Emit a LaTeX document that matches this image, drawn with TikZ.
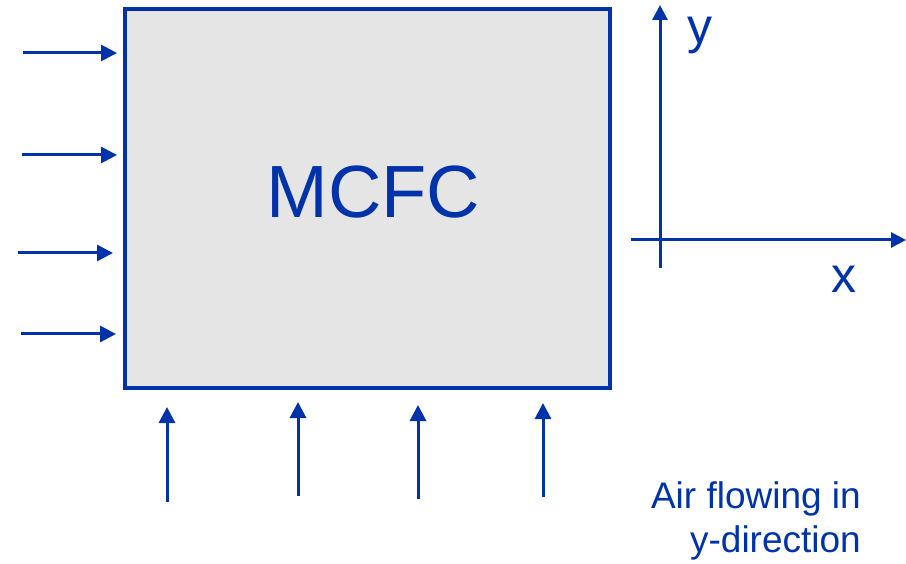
\documentclass[tikz,border=0pt]{standalone}
\usepackage{fontspec}
\setmainfont{Liberation Sans}
\usetikzlibrary{arrows.meta}
\definecolor{flowblue}{RGB}{0,51,170}
\definecolor{cellgray}{RGB}{229,229,229}
\tikzset{
  cellbox/.style={draw=flowblue, fill=cellgray, line width=3.2pt, rectangle, inner sep=0pt,
    minimum width=485pt, minimum height=379pt},
  flowarrow/.style={draw=flowblue, line width=3pt, -{Triangle[length=16pt,width=16pt]}},
  axisarrow/.style={draw=flowblue, line width=3pt, -{Triangle[length=15pt,width=15pt]}},
  bluetext/.style={text=flowblue, inner sep=0pt}
}
\begin{document}
\begin{tikzpicture}[x=1pt,y=-1pt]
\useasboundingbox (0,0) rectangle (906,564);
% main cell
\node[cellbox] (cell) at (367.5,198.5) {};
\node[bluetext, anchor=base, font=\fontsize{74}{78}\selectfont] (mcfc) at (373.5,218) {MCFC};
% left inflow arrows
\coordinate (l1s) at (23,53);  \coordinate (l1e) at (117,53);
\coordinate (l2s) at (22,155); \coordinate (l2e) at (117,155);
\coordinate (l3s) at (18,253); \coordinate (l3e) at (113,253);
\coordinate (l4s) at (21,334); \coordinate (l4e) at (116,334);
\draw[flowarrow] (l1s) -- (l1e);
\draw[flowarrow] (l2s) -- (l2e);
\draw[flowarrow] (l3s) -- (l3e);
\draw[flowarrow] (l4s) -- (l4e);
% bottom inflow arrows
\coordinate (b1s) at (167,502); \coordinate (b1e) at (167,407);
\coordinate (b2s) at (298,496); \coordinate (b2e) at (298,402);
\coordinate (b3s) at (418,499); \coordinate (b3e) at (418,405);
\coordinate (b4s) at (543,497); \coordinate (b4e) at (543,403);
\draw[flowarrow] (b1s) -- (b1e);
\draw[flowarrow] (b2s) -- (b2e);
\draw[flowarrow] (b3s) -- (b3e);
\draw[flowarrow] (b4s) -- (b4e);
% axes
\coordinate (ys) at (660,268); \coordinate (ye) at (660,5);
\coordinate (xs) at (631,240); \coordinate (xe) at (906,240);
\draw[axisarrow] (ys) -- (ye);
\draw[axisarrow] (xs) -- (xe);
\node[bluetext, anchor=base, font=\fontsize{50}{52}\selectfont] (ylab) at (700,44) {y};
\node[bluetext, anchor=base, font=\fontsize{50}{52}\selectfont] (xlab) at (844,293) {x};
% caption
\node[bluetext, anchor=base east, font=\fontsize{37}{40}\selectfont] (cap1) at (861,508) {Air flowing in};
\node[bluetext, anchor=base east, font=\fontsize{37}{40}\selectfont] (cap2) at (861,552) {y-direction};
\end{tikzpicture}
\end{document}
